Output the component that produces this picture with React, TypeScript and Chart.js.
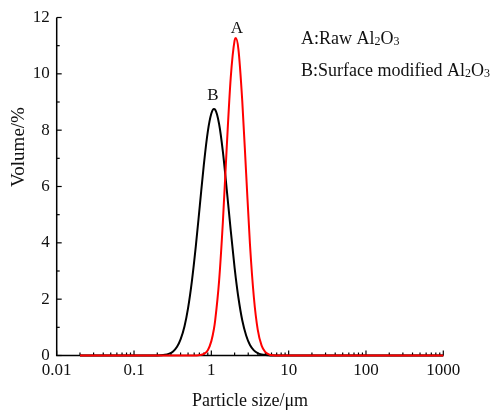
import { useEffect, useRef } from "react";
import { Chart, registerables } from "chart.js";

Chart.register(...registerables);

// Particle size (µm) sampling points
const particleSizes = [
  0.02, 0.05, 0.1, 0.15, 0.2, 0.22, 0.25, 0.28, 0.32, 0.36, 0.4, 0.45, 0.5,
  0.56, 0.63, 0.71, 0.8, 0.9, 1.0, 1.08, 1.12, 1.26, 1.41, 1.58, 1.78, 2.0,
  2.07, 2.24, 2.51, 2.82, 3.16, 3.55, 3.98, 4.47, 5.01, 5.62, 6.31, 7.08, 10,
  20, 50, 100, 200, 500, 1000,
];

// A: Raw Al2O3 (red)
const rawVolume = [
  0, 0, 0, 0, 0, 0, 0, 0, 0, 0, 0, 0, 0,
  0, 0.003, 0.014, 0.057, 0.19, 0.51, 0.94, 1.24, 2.65, 4.74, 7.37, 9.85, 11.19,
  11.27, 10.87, 9.05, 6.46, 3.94, 2.06, 0.92, 0.35, 0.12, 0.033, 0.008, 0, 0,
  0, 0, 0, 0, 0, 0,
];

// B: Surface modified Al2O3 (black)
const modifiedVolume = [
  0, 0, 0, 0, 0.003, 0.008, 0.023, 0.056, 0.145, 0.31, 0.57, 1.04, 1.68,
  2.63, 3.88, 5.33, 6.78, 7.95, 8.59, 8.75, 8.73, 8.22, 7.24, 5.91, 4.45, 3.11,
  2.76, 2.05, 1.25, 0.71, 0.37, 0.18, 0.083, 0.035, 0.014, 0.005, 0, 0, 0,
  0, 0, 0, 0, 0, 0,
];

const xMajorTicks = [0.01, 0.1, 1, 10, 100, 1000];
const xTickLabels = ["0.01", "0.1", "1", "10", "100", "1000"];
const yMajorTicks = [0, 2, 4, 6, 8, 10, 12];
const yTickLabels = ["0", "2", "4", "6", "8", "10", "12"];

const xAxisTitle = "Particle size/\u03bcm";
const yAxisTitle = "Volume/%";

// legend lines: [text, isSubscript]
const legendLineA: [string, boolean][] = [["A:Raw Al", false], ["2", true], ["O", false], ["3", true]];
const legendLineB: [string, boolean][] = [["B:Surface modified Al", false], ["2", true], ["O", false], ["3", true]];

const FONT = "'Liberation Serif', 'Times New Roman', serif";

const xAllTicks: number[] = [];
for (let i = 0; i < xMajorTicks.length; i++) {
  const base = xMajorTicks[i];
  xAllTicks.push(base);
  if (i < xMajorTicks.length - 1) {
    for (let m = 2; m <= 9; m++) xAllTicks.push(+(base * m).toPrecision(6));
  }
}

const decorPlugin = {
  id: "decor",
  beforeDatasetsDraw(chart: any) {
    const { ctx, chartArea } = chart;
    const xs = chart.scales.x;
    const ys = chart.scales.y;
    ctx.save();
    ctx.strokeStyle = "#000";
    ctx.lineWidth = 1.5;
    // axes
    ctx.beginPath();
    ctx.moveTo(chartArea.left, chartArea.top);
    ctx.lineTo(chartArea.left, chartArea.bottom);
    ctx.lineTo(chartArea.right, chartArea.bottom);
    ctx.stroke();
    ctx.lineWidth = 1.2;
    // x ticks inward
    for (const v of xAllTicks) {
      const px = xs.getPixelForValue(v);
      const major = xMajorTicks.includes(v);
      const len = major ? 5 : 3;
      ctx.beginPath();
      ctx.moveTo(px, chartArea.bottom);
      ctx.lineTo(px, chartArea.bottom - len);
      ctx.stroke();
    }
    // y ticks inward
    for (let v = 0; v <= 12; v++) {
      const py = ys.getPixelForValue(v);
      const major = yMajorTicks.includes(v);
      const len = major ? 5 : 3;
      ctx.beginPath();
      ctx.moveTo(chartArea.left, py);
      ctx.lineTo(chartArea.left + len, py);
      ctx.stroke();
    }
    ctx.restore();
  },
  afterDraw(chart: any) {
    const { ctx, chartArea } = chart;
    const xs = chart.scales.x;
    const ys = chart.scales.y;
    ctx.save();
    ctx.fillStyle = "#111";
    // axis titles
    ctx.font = `18px ${FONT}`;
    ctx.textAlign = "center";
    ctx.textBaseline = "middle";
    ctx.fillText(xAxisTitle, (chartArea.left + chartArea.right) / 2, 401);
    ctx.save();
    ctx.font = `19px ${FONT}`;
    ctx.translate(19, 147);
    ctx.rotate(-Math.PI / 2);
    ctx.fillText(yAxisTitle, 0, 0);
    ctx.restore();

    // peak labels
    ctx.font = `17px ${FONT}`;
    ctx.textBaseline = "alphabetic";
    const peakA = rawVolume.indexOf(Math.max(...rawVolume));
    const peakB = modifiedVolume.indexOf(Math.max(...modifiedVolume));
    ctx.fillText("A", xs.getPixelForValue(particleSizes[peakA]) + 1, ys.getPixelForValue(rawVolume[peakA]) - 5);
    ctx.fillText("B", xs.getPixelForValue(particleSizes[peakB]) - 1, ys.getPixelForValue(modifiedVolume[peakB]) - 9);

    // legend text with subscripts
    const drawLine = (parts: [string, boolean][], x: number, y: number) => {
      ctx.textAlign = "left";
      let cx = x;
      for (const [t, sub] of parts) {
        ctx.font = sub ? `12px ${FONT}` : `18px ${FONT}`;
        ctx.fillText(t, cx, sub ? y + 1 : y);
        cx += ctx.measureText(t).width;
      }
    };
    drawLine(legendLineA, 301, 44);
    drawLine(legendLineB, 301, 76);
    ctx.restore();
  },
};

export default function App() {
  const canvasRef = useRef<HTMLCanvasElement>(null);

  useEffect(() => {
    document.body.style.margin = "0";
    const canvas = canvasRef.current;
    if (!canvas) return;
    const chart = new Chart(canvas, {
      type: "line",
      data: {
        labels: particleSizes,
        datasets: [
          {
            label: "A:Raw Al2O3",
            data: rawVolume,
            borderColor: "#ff0000",
            borderWidth: 2,
            pointRadius: 0,
            cubicInterpolationMode: "monotone",
            fill: false,
            clip: false as any,
          },
          {
            label: "B:Surface modified Al2O3",
            data: modifiedVolume,
            borderColor: "#000000",
            borderWidth: 2,
            pointRadius: 0,
            cubicInterpolationMode: "monotone",
            fill: false,
            clip: false as any,
          },
        ],
      },
      options: {
        responsive: false,
        animation: false,
        events: [],
        layout: { padding: { left: 0, right: 47.7, top: 17.5, bottom: 0 } },
        plugins: {
          legend: { display: false },
          tooltip: { enabled: false },
          title: { display: false },
        },
        scales: {
          x: {
            type: "logarithmic",
            min: 0.01,
            max: 1000,
            grid: { display: false, drawTicks: false },
            border: { display: false },
            afterBuildTicks: (scale: any) => {
              scale.ticks = xMajorTicks.map((v) => ({ value: v, major: true }));
            },
            afterFit: (scale: any) => {
              scale.height = 56.5;
            },
            ticks: {
              autoSkip: false,
              maxRotation: 0,
              padding: 5,
              color: "#111",
              font: { family: FONT, size: 17 },
              callback: (v: any) => {
                const i = xMajorTicks.findIndex((t) => Math.abs(t - Number(v)) < 1e-9 * Math.max(1, t));
                return i >= 0 ? xTickLabels[i] : "";
              },
            },
          },
          y: {
            type: "linear",
            min: 0,
            max: 12,
            grid: { display: false, drawTicks: false },
            border: { display: false },
            afterBuildTicks: (scale: any) => {
              scale.ticks = yMajorTicks.map((v) => ({ value: v }));
            },
            afterFit: (scale: any) => {
              scale.width = 56.7;
            },
            ticks: {
              padding: 7,
              color: "#111",
              font: { family: FONT, size: 17 },
              callback: (v: any) => {
                const i = yMajorTicks.indexOf(Number(v));
                return i >= 0 ? yTickLabels[i] : "";
              },
            },
          },
        },
      },
      plugins: [decorPlugin],
    });
    return () => chart.destroy();
  }, []);

  return (
    <div style={{ position: "absolute", left: 0, top: 0, width: 491, height: 412, background: "#fff" }}>
      <canvas ref={canvasRef} width={491} height={412} style={{ width: 491, height: 412, display: "block" }} />
    </div>
  );
}
